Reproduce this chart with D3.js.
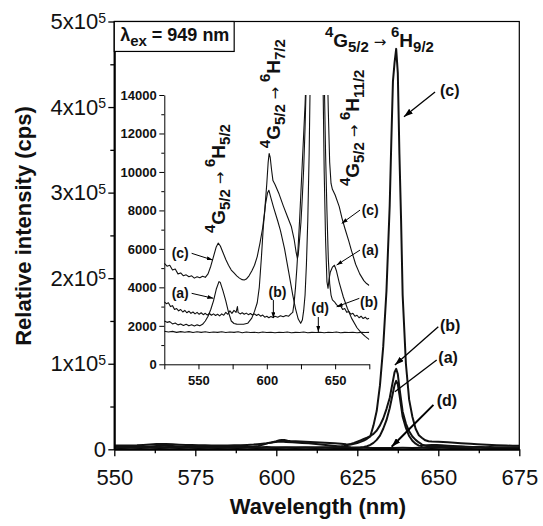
<!DOCTYPE html>
<html>
<head>
<meta charset="utf-8">
<script src="https://cdn.jsdelivr.net/npm/d3@7"></script>
<style>
  body { margin: 0; background: #fff; }
  svg { display: block; font-family: "Liberation Sans", Arial, Helvetica, sans-serif; }
</style>
</head>
<body>
<svg id="chart" width="543" height="526" viewBox="0 0 543 526"></svg>
<script>
// ---- data: [wavelength (nm), intensity (cps)] ----
const curveA = [
  [525,2250],[527,2180],[529,2220],[531,2100],[533,2150],[535,2050],[537,2100],[539,2020],[541,2080],[543,2000],
  [545,2060],[547,1990],[549,2050],[551,2000],[553,2080],[555,2250],[557,2500],[559,2850],[561,3300],[563,3900],
  [565,4300],[566,4250],[568,3800],[570,3300],[572,2700],[574,2250],[576,2120],[578,2090],[580.5,2080],[583,2080],
  [586,2130],[589,2400],[591,2750],[593,3200],[594.5,4000],[596,5500],[597.5,7200],[599,8300],[600.5,8900],[601.5,9050],
  [603,8650],[605,8150],[608,7450],[610,6950],[613,6000],[616,4800],[619,3600],[621,2900],[623,2350],[624.8,2130],
  [626,2300],[627,2800],[628,3600],[629,5200],[630,7500],[631,11000],[632,16000],[633,24000],[634,34000],[635,48000],
  [636,66000],[636.5,75000],[637,80000],[637.5,76000],[638,64000],[638.5,51000],[639,38000],[640,25000],[641,15500],
  [642,10000],[643,6500],[644,4300],[644.8,3950],[645.5,4400],[646.5,4800],[648,5050],[649.5,5150],[651,4850],
  [653,4250],[656,3500],[659,2900],[662,2400],[666,1900],[669,1650],[672,1450],[675,1280]
];
const curveB = [
  [525,3250],[526.5,3150],[528,3200],[529.5,3000],[531,3050],[532.5,2850],[534,2900],[535.5,2780],[537,2850],[538.5,2720],
  [540,2800],[541.5,2680],[543,2760],[544.5,2650],[546,2720],[547.5,2620],[549,2700],[550.5,2600],[552,2680],[553.5,2580],
  [555,2650],[556.5,2560],[558,2640],[559.5,2550],[561,2620],[562.5,2540],[564,2600],[565.5,2520],[567,2620],[568.5,2550],
  [570,2700],[571.5,2600],[573,2780],[574.5,2650],[576,2800],[577.5,2700],[578.5,3000],[579,2700],[580.5,2620],[582,2680],
  [583.5,2600],[585,2660],[586.5,2580],[588,2640],[589.5,2560],[591,2620],[592.5,2540],[594,2600],[595.5,2500],[597,2560],
  [598.5,2450],[600,2500],[601.5,2420],[603,2480],[604.5,2430],[606,2500],[608,2450],[610,2520],[612,2470],[614,2540],
  [616,2500],[618,2650],[619,2700],[620,3200],[621,4000],[622,5000],[623,6200],[624,7500],[625,9000],[626,10500],
  [627,12000],[628,13500],[629,15500],[630,18000],[631,22000],[632,28000],[633,36000],[634,47000],[635,60000],[636,80000],
  [636.5,90000],[637,94000],[637.5,88000],[638,72000],[638.5,58000],[639,44000],[640,30000],[641,21000],[642,15000],
  [643,11000],[644,8000],[645,5500],[646,4200],[647,3600],[648,3350],[649.5,3250],[651,3100],[652.5,3000],[654,3050],
  [655.5,2850],[657,2900],[658.5,2700],[660,2750],[661.5,2600],[663,2650],[664.5,2500],[666,2550],[667.5,2420],[669,2500],
  [670.5,2380],[672,2450],[673.5,2350],[675,2400]
];
const curveC = [
  [525,5250],[527,5100],[529,5150],[531,4900],[533,4950],[535,4700],[537,4750],[539,4600],[541,4650],[543,4550],
  [545,4600],[547,4480],[549,4550],[551,4500],[553,4580],[555,4520],[557,4700],[559,5100],[561,5600],[563,6100],
  [564.5,6300],[566,6150],[568,5800],[570,5450],[572,5150],[574,4900],[576,4750],[578,4600],[580,4480],[582,4400],
  [583.5,4380],[585,4430],[587,4600],[589,4850],[591,5150],[593,5600],[595,6300],[597,7100],[598.5,8000],[600,9400],
  [601,10500],[601.7,10960],[602.5,10750],[603.5,10100],[604.5,9550],[606,9350],[609,8850],[612,8250],[615,7700],
  [618,7150],[620,6500],[621.5,5800],[622.4,5500],[623,5700],[624,6500],[625,7400],[626,8700],[627,10200],[628,12300],
  [629,15000],[630,28000],[631,45000],[632,75000],[633,120000],[634,185000],[635,285000],[635.5,360000],[636,430000],
  [636.5,452000],[637,468000],[637.5,440000],[638,345000],[638.5,270000],[639,180000],[640,100000],[641,58000],
  [642,38000],[643,24000],[644,16500],[645,13200],[646,10500],[647,9400],[648,9100],[650,8800],[653,8200],[655,7600],
  [657,7100],[660,6400],[662,5900],[665,5200],[668,4700],[671,4350],[673,4200],[675,4100]
];
const curveD = [
  [525,1720],[528,1680],[531,1710],[534,1660],[537,1700],[540,1670],[543,1700],[546,1650],[549,1690],[552,1660],
  [555,1690],[558,1650],[561,1680],[564,1660],[567,1690],[570,1650],[573,1680],[576,1660],[579,1690],[582,1640],
  [585,1680],[588,1650],[591,1670],[594,1640],[597,1680],[600,1650],[603,1670],[606,1640],[609,1670],[612,1650],
  [615,1680],[618,1640],[621,1660],[624,1650],[627,1680],[630,1640],[633,1660],[636,1650],[639,1670],[642,1640],
  [645,1670],[648,1650],[651,1680],[654,1640],[657,1660],[660,1650],[663,1670],[666,1640],[669,1660],[672,1650],[675,1660]
];

// ---- ticks ----
const mainXTicks = [550, 575, 600, 625, 650, 675];
const mainXMinor = [562.5, 587.5, 612.5, 637.5, 662.5];
const mainYTicks = [0, 1e5, 2e5, 3e5, 4e5, 5e5];
const mainYMinor = [0.5e5, 1.5e5, 2.5e5, 3.5e5, 4.5e5];
const insetXTicks = [525, 550, 575, 600, 625, 650, 675];
const insetXLabels = [550, 600, 650];
const insetYTicks = [0, 2000, 4000, 6000, 8000, 10000, 12000, 14000];
const insetYMinor = [1000, 3000, 5000, 7000, 9000, 11000, 13000];

const svg = d3.select("#chart");

// main plot scales
const x = d3.scaleLinear().domain([550, 675]).range([114.3, 519.3]);
const y = d3.scaleLinear().domain([0, 5e5]).range([449.3, 21.5]);
// inset scales
const ix = d3.scaleLinear().domain([525, 675]).range([164.3, 369.3]);
const iy = d3.scaleLinear().domain([0, 14000]).range([364.3, 95]);

const series = [curveD, curveA, curveB, curveC];

const defs = svg.append("defs");
defs.append("clipPath").attr("id", "clipMain").append("rect")
    .attr("x", x(550)).attr("y", y(5e5))
    .attr("width", x(675) - x(550)).attr("height", y(0) - y(5e5) + 1);
defs.append("clipPath").attr("id", "clipInset").append("rect")
    .attr("x", ix(525)).attr("y", iy(14000))
    .attr("width", ix(675) - ix(525)).attr("height", iy(0) - iy(14000));

function arrowHead(id, len, wid) {
    defs.append("marker").attr("id", id)
        .attr("viewBox", `0 0 ${len} ${wid}`)
        .attr("refX", len).attr("refY", wid / 2)
        .attr("markerWidth", len).attr("markerHeight", wid)
        .attr("markerUnits", "userSpaceOnUse")
        .attr("orient", "auto")
        .append("path").attr("d", `M0,0L${len},${wid / 2}L0,${wid}Z`).attr("fill", "#000");
}
arrowHead("headMain", 9, 6);
arrowHead("headInset", 6, 4);

// ---- main curves ----
const mainLine = d3.line().x(d => x(d[0])).y(d => y(d[1]));
svg.append("g").attr("clip-path", "url(#clipMain)")
    .selectAll("path").data(series).join("path")
    .attr("d", mainLine)
    .attr("fill", "none").attr("stroke", "#111")
    .attr("stroke-width", 2).attr("stroke-linejoin", "round");

// frame
svg.append("rect")
    .attr("x", x(550)).attr("y", y(5e5))
    .attr("width", x(675) - x(550)).attr("height", y(0) - y(5e5))
    .attr("fill", "none").attr("stroke", "#000").attr("stroke-width", 1.2);

// main x axis
const gx = svg.append("g").attr("transform", `translate(0,${y(0)})`)
    .call(d3.axisBottom(x).tickValues(mainXTicks).tickSize(7).tickSizeOuter(0)
        .tickPadding(13).tickFormat(d3.format("d")));
gx.select(".domain").attr("stroke-width", 2);
gx.selectAll(".tick line").attr("stroke-width", 1.3);
gx.selectAll("text").attr("font-size", 22).attr("font-family", null).attr("fill", "#111");
svg.append("g").attr("transform", `translate(0,${y(0)})`)
    .call(d3.axisBottom(x).tickValues(mainXMinor).tickSize(4).tickFormat(""))
    .call(g => g.select(".domain").remove())
    .selectAll("line").attr("stroke-width", 1.3);

// main y axis
const gy = svg.append("g").attr("transform", `translate(${x(550)},0)`)
    .call(d3.axisLeft(y).tickValues(mainYTicks).tickSize(6).tickSizeOuter(0)
        .tickPadding(2.3).tickFormat(""));
gy.select(".domain").attr("stroke-width", 2);
gy.selectAll(".tick line").attr("stroke-width", 1.3);
gy.selectAll(".tick text").each(function(d) {
    const t = d3.select(this).attr("font-size", 22).attr("font-family", null).attr("fill", "#111");
    if (d === 0) { t.text("0"); return; }
    t.append("tspan").text(`${d / 1e5}x10`);
    t.append("tspan").attr("dy", "-0.45em").attr("font-size", 14).text("5");
});
svg.append("g").attr("transform", `translate(${x(550)},0)`)
    .call(d3.axisLeft(y).tickValues(mainYMinor).tickSize(4).tickFormat(""))
    .call(g => g.select(".domain").remove())
    .selectAll("line").attr("stroke-width", 1.3);

// axis titles
svg.append("text")
    .attr("transform", "translate(31,226) rotate(-90)")
    .attr("text-anchor", "middle").attr("font-size", 22).attr("font-weight", "bold")
    .attr("fill", "#111")
    .text("Relative intensity (cps)");
svg.append("text")
    .attr("x", 318).attr("y", 514)
    .attr("text-anchor", "middle").attr("font-size", 22).attr("font-weight", "bold")
    .attr("fill", "#111")
    .text("Wavelength (nm)");

// excitation box
svg.append("rect")
    .attr("x", x(550)).attr("y", y(5e5))
    .attr("width", x(587) - x(550)).attr("height", y(465000) - y(5e5))
    .attr("fill", "#fff").attr("stroke", "#000").attr("stroke-width", 1.2);
const lam = svg.append("text")
    .attr("x", x(551.8)).attr("y", y(477600))
    .attr("font-size", 18).attr("font-weight", "bold").attr("fill", "#111");
lam.append("tspan").text("λ");
lam.append("tspan").attr("dy", 5).attr("font-size", 15).text("ex");
lam.append("tspan").attr("dy", -5).text(" = 949 nm");

// ---- transition labels ----
function levels(text, lo, hi, big, small) {
    const parts = [
        ["4", -0.5 * big, small, "bold", null], ["G", 0, big, "bold", null], [lo, 0.28 * big, small, "bold", null],
        [" \u2192 ", 0, small, "normal", "DejaVu Sans"],
        ["6", -0.5 * big, small, "bold", null], ["H", 0, big, "bold", null], [hi, 0.28 * big, small, "bold", null]
    ];
    let cur = 0;
    parts.forEach(([s, shift, size, w, fam]) => {
        text.append("tspan").attr("dy", shift - cur).attr("font-size", size)
            .attr("font-weight", w).attr("font-family", fam).text(s);
        cur = shift;
    });
}
const topLabel = svg.append("text").attr("x", x(615)).attr("y", y(470600))
    .attr("fill", "#111").style("white-space", "pre");
levels(topLabel, "5/2", "9/2", 19, 15);

function rotLabel(px, py, hi) {
    const t = svg.append("text")
        .attr("transform", `translate(${px},${py}) rotate(-90)`)
        .attr("fill", "#111").style("white-space", "pre");
    levels(t, "5/2", hi, 19, 15);
}
rotLabel(ix(569.4), iy(6820), "5/2");
rotLabel(ix(609.3), iy(11237), "7/2");
rotLabel(ix(667.5), iy(9263), "11/2");

// ---- inset ----
const insetLine = d3.line().x(d => ix(d[0])).y(d => iy(d[1]));
svg.append("g").attr("clip-path", "url(#clipInset)")
    .selectAll("path").data(series).join("path")
    .attr("d", insetLine)
    .attr("fill", "none").attr("stroke", "#111")
    .attr("stroke-width", 1.1).attr("stroke-linejoin", "round");

const igx = svg.append("g").attr("transform", `translate(0,${iy(0)})`)
    .call(d3.axisBottom(ix).tickValues(insetXTicks).tickSize(5).tickSizeOuter(0)
        .tickPadding(6.5).tickFormat(d => insetXLabels.includes(d) ? d : ""));
const igy = svg.append("g").attr("transform", `translate(${ix(525)},0)`)
    .call(d3.axisLeft(iy).tickValues(insetYTicks).tickSize(5).tickSizeOuter(0)
        .tickPadding(2.6).tickFormat(d3.format("d")));
svg.append("g").attr("transform", `translate(${ix(525)},0)`)
    .call(d3.axisLeft(iy).tickValues(insetYMinor).tickSize(3).tickFormat(""))
    .call(g => g.select(".domain").remove());
[igx, igy].forEach(g => g.selectAll("text")
    .attr("font-size", 13).attr("font-weight", "bold").attr("font-family", null).attr("fill", "#111"));

// ---- curve labels with arrows ----
function note(sx, sy, label, tx, ty, x0, y0, x1, y1, size, head, anchor, sw) {
    svg.append("text").attr("x", sx(tx)).attr("y", sy(ty))
        .attr("text-anchor", anchor).attr("font-size", size).attr("font-weight", "bold")
        .attr("fill", "#111").text(label);
    svg.append("line")
        .attr("x1", sx(x0)).attr("y1", sy(y0)).attr("x2", sx(x1)).attr("y2", sy(y1))
        .attr("stroke", "#000").attr("stroke-width", sw)
        .attr("marker-end", head ? `url(#${head})` : null);
}
// main plot
note(x, y, "(c)", 650.5, 413000, 649, 417600, 639.4, 388700, 16, "headMain", "start", 1.3);
note(x, y, "(b)", 650.5, 138300, 650, 143300, 636.6, 98500, 16, "headMain", "start", 1.3);
note(x, y, "(a)", 650, 101200, 649.5, 104400, 636.6, 67300, 16, null, "start", 1.3);
note(x, y, "(d)", 649.5, 50600, 648.5, 51900, 635.6, 3000, 16, "headMain", "start", 2);
// inset
note(ix, iy, "(c)", 530.4, 5520, 545, 5770, 560.4, 5420, 14, "headInset", "start", 1);
note(ix, iy, "(a)", 530.4, 3444, 545, 3690, 560.9, 3430, 14, "headInset", "start", 1);
note(ix, iy, "(b)", 607.8, 3510, 604.8, 3340, 604.8, 2400, 14, "headInset", "middle", 1);
note(ix, iy, "(d)", 639, 2665, 637.7, 2457, 637.7, 1678, 14, "headInset", "middle", 1);
note(ix, iy, "(c)", 669.4, 7756, 668.2, 8016, 654.8, 7325, 14, "headInset", "start", 1);
note(ix, iy, "(a)", 669.4, 5678, 668.2, 5938, 651.1, 5159, 14, "headInset", "start", 1);
note(ix, iy, "(b)", 668.2, 2992, 667.7, 3429, 651.1, 2992, 14, "headInset", "start", 1);
</script>
</body>
</html>
